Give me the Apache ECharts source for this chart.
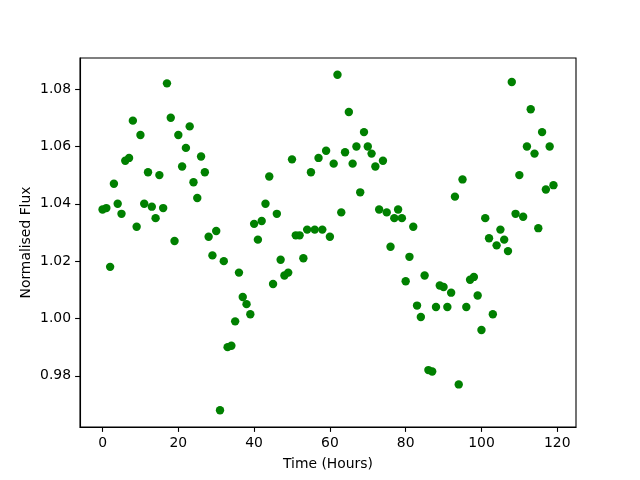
<!DOCTYPE html>
<html>
<head>
<meta charset="utf-8">
<script src="https://cdn.jsdelivr.net/npm/echarts@6/dist/echarts.min.js"></script>
<style>html,body{margin:0;padding:0;background:#fff}#c{width:640px;height:480px}</style>
</head>
<body>
<div id="c"></div>
<script>
var hours = [];
for (var i = 0; i < 120; i++) hours.push(i);
var flux = [
1.038,1.0385,1.018,1.047,1.040,1.0365,1.055,1.056,1.069,1.032,
1.064,1.040,1.051,1.039,1.035,1.050,1.0385,1.082,1.070,1.027,
1.064,1.053,1.0595,1.067,1.0475,1.042,1.0565,1.051,1.0285,1.022,
1.0305,0.968,1.020,0.990,0.9905,0.999,1.016,1.0075,1.005,1.0015,
1.033,1.0275,1.034,1.040,1.0495,1.012,1.0365,1.0205,1.015,1.016,
1.0555,1.029,1.029,1.021,1.031,1.051,1.031,1.056,1.031,1.0585,
1.0285,1.054,1.085,1.037,1.058,1.072,1.054,1.060,1.044,1.065,
1.060,1.0575,1.053,1.038,1.055,1.037,1.025,1.035,1.038,1.035,
1.013,1.0215,1.032,1.0045,1.0005,1.015,0.982,0.9815,1.004,1.0115,
1.011,1.004,1.009,1.0425,0.977,1.0485,1.004,1.0135,1.0145,1.008,
0.996,1.035,1.028,1.0015,1.0255,1.031,1.0275,1.0235,1.0825,1.0365,
1.050,1.0355,1.060,1.073,1.0575,1.0315,1.065,1.045,1.060,1.0465
];
var xTicks = [0, 20, 40, 60, 80, 100, 120];
var yTicks = [0.98, 1.00, 1.02, 1.04, 1.06, 1.08];

var pts = hours.map(function (h, i) { return [h, flux[i]]; });
var font = 'DejaVu Sans';
var chart = echarts.init(document.getElementById('c'), null, {renderer: 'canvas'});
chart.setOption({
  animation: false,
  backgroundColor: '#fff',
  grid: {left: 80, right: 64, top: 58, bottom: 53, show: true, borderColor: '#000', borderWidth: 1.1, backgroundColor: 'transparent'},
  xAxis: {
    type: 'value', min: -5.95, max: 124.95,
    name: 'Time (Hours)', nameLocation: 'middle', nameGap: 30, nameMoveOverlap: false,
    nameTextStyle: {fontFamily: font, fontSize: 13.9, color: '#000'},
    axisLine: {show: true, onZero: false, lineStyle: {color: '#000', width: 1.1}},
    axisTick: {show: true, length: 4.9, lineStyle: {color: '#000', width: 1.1}, customValues: xTicks},
    axisLabel: {fontFamily: font, fontSize: 13.9, color: '#000', margin: 9, customValues: xTicks},
    splitLine: {show: false}
  },
  yAxis: {
    type: 'value', min: 0.96215, max: 1.09085,
    name: 'Normalised Flux', nameLocation: 'middle', nameGap: 47, nameRotate: 90, nameMoveOverlap: false,
    nameTextStyle: {fontFamily: font, fontSize: 13.9, color: '#000'},
    axisLine: {show: true, onZero: false, lineStyle: {color: '#000', width: 1.1}},
    axisTick: {show: true, length: 4.9, lineStyle: {color: '#000', width: 1.1}, customValues: yTicks},
    axisLabel: {fontFamily: font, fontSize: 13.9, color: '#000', margin: 9, customValues: yTicks,
      formatter: function (v) { return v.toFixed(2); }},
    splitLine: {show: false}
  },
  series: [{
    type: 'scatter', data: pts, symbol: 'circle', symbolSize: 8.4,
    itemStyle: {color: '#008000', opacity: 1}
  }]
});
</script>
</body>
</html>
